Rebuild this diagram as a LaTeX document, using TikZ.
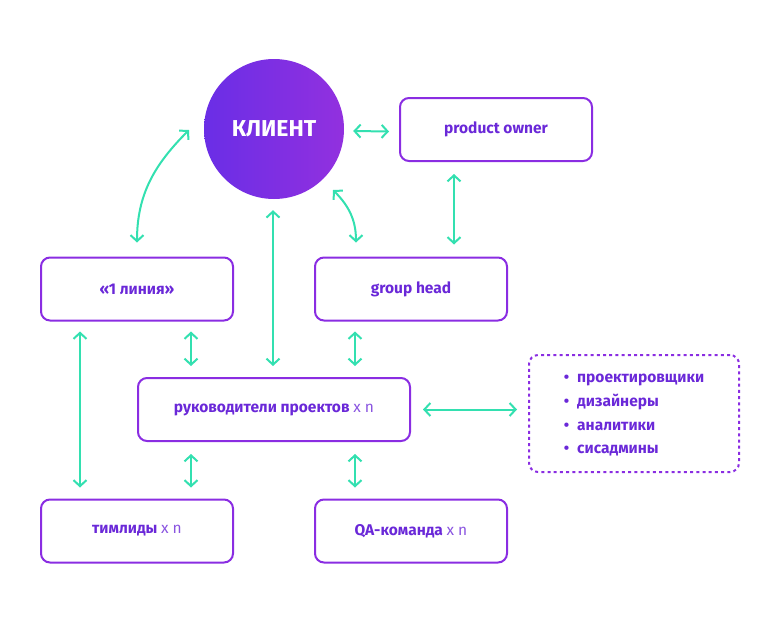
\documentclass[tikz,border=0pt]{standalone}
\usepackage{fontspec}
\setmainfont{Fira Sans}
\usetikzlibrary{arrows.meta,calc}
\definecolor{lineP}{HTML}{8A2DE2}
\definecolor{textP}{HTML}{6A28D8}
\definecolor{textL}{HTML}{8A55E0}
\definecolor{teal}{HTML}{33E0B0}
\definecolor{cL}{HTML}{6A2EE6}
\definecolor{cR}{HTML}{9230DF}
\tikzset{
  box/.style={draw=lineP, line width=2pt, rounded corners=9pt, minimum width=192pt, minimum height=63pt,
    font=\fontsize{15.5}{18}\selectfont\bfseries, text=textP, inner sep=0pt},
  arr/.style={draw=teal, line width=2pt, {Straight Barb[length=6pt,width=13pt,line width=2pt]}-{Straight Barb[length=6pt,width=13pt,line width=2pt]}}
}
\newcommand{\xnn}{\mdseries\color{textL} x n}
\begin{document}
\begin{tikzpicture}[x=1pt,y=-1pt]
\useasboundingbox (0,0) rectangle (780,624);
\node[circle, minimum size=140pt, inner sep=0pt, left color=cL, right color=cR, shading angle=90,
  text=white, font=\fontsize{23}{26}\selectfont\bfseries] (client) at (274,129) {КЛИЕНТ};
\node[box] (po) at (496,129.5) {product owner};
\node[box] (l1) at (137,289) {«1 линия»};
\node[box] (gh) at (411,289) {group head};
\node[box, minimum width=272pt] (pm) at (274,409.5) {руководители проектов {\xnn}};
\node[box] (tl) at (137,531) {тимлиды {\xnn}};
\node[box] (qa) at (411,531) {QA-команда {\xnn}};
\node[draw=lineP, line width=2pt, dash pattern=on 3pt off 3.2pt, rounded corners=9pt,
  minimum width=210pt, minimum height=117pt, inner sep=0pt, text=textP,
  font=\fontsize{15.5}{17}\selectfont\bfseries] (roles) at (634,413.5)
  {\renewcommand\arraystretch{1.4}\begin{tabular}{@{}l@{\hspace{8pt}}l@{}}
  \textbullet & проектировщики\\
  \textbullet & дизайнеры\\
  \textbullet & аналитики\\
  \textbullet & сисадмины
  \end{tabular}};
% connectors
\coordinate (cl1) at (189,130);
\coordinate (cgh) at (333,190);
\draw[arr] ($(client.east)+(9,2)$) -- ($(po.west)+(-10,2)$);
\draw[arr] ($(po.south)+(-42,12)$) -- ($(gh.north)+(43,-12)$);
\draw[arr] ($(client.south)+(-1,11)$) -- ($(pm.north)+(-1,-11)$);
\draw[arr] ($(l1.north)+(0,-14)$) to[out=90,in=225] (cl1);
\draw[arr] ($(gh.north)+(-55,-14)$) to[out=90,in=-45] (cgh);
\draw[arr] ($(l1.south)+(54,10)$) -- ($(pm.north)+(-83,-11)$);
\draw[arr] ($(gh.south)+(-56,10)$) -- ($(pm.north)+(81,-11)$);
\draw[arr] ($(l1.south)+(-57,10)$) -- ($(tl.north)+(-57,-11)$);
\draw[arr] ($(pm.south)+(-83,12)$) -- ($(tl.north)+(54,-11)$);
\draw[arr] ($(pm.south)+(81,12)$) -- ($(qa.north)+(-56,-11)$);
\draw[arr] ($(pm.east)+(12,0)$) -- ($(roles.west)+(-11,-4)$);
\end{tikzpicture}
\end{document}
